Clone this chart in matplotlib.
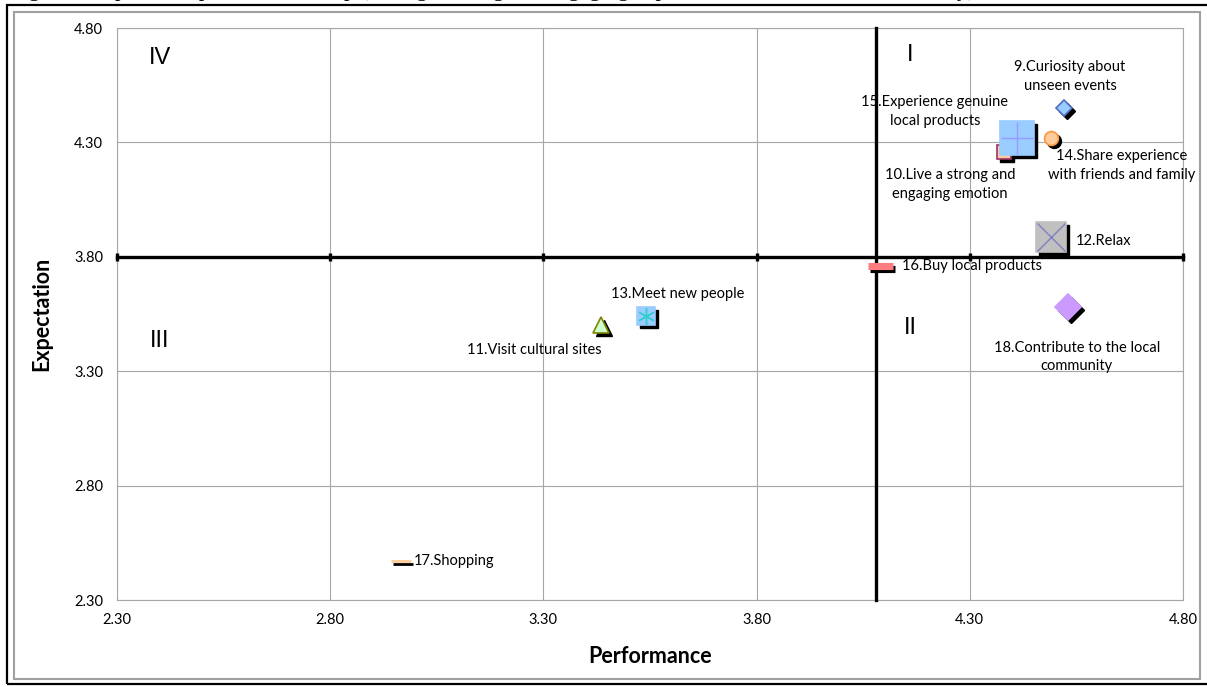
import matplotlib
matplotlib.use("Agg")
import matplotlib.pyplot as plt
import matplotlib.transforms as mtransforms
from matplotlib.patches import Rectangle

plt.rcParams['font.family'] = ['Lato', 'DejaVu Sans']

# ---- data: (performance, expectation) per item --------------------------------
items = ["9.Curiosity about\nunseen events",
         "10.Live a strong and\nengaging emotion",
         "11.Visit cultural sites",
         "12.Relax",
         "13.Meet new people",
         "14.Share experience\nwith friends and family",
         "15.Experience genuine\nlocal products",
         "16.Buy local products",
         "17.Shopping",
         "18.Contribute to the local\ncommunity"]
performance = [4.52, 4.38, 3.435, 4.49, 3.54, 4.49, 4.41, 4.09, 2.965, 4.53]
expectation = [4.45, 4.26, 3.50, 3.885, 3.54, 4.32, 4.32, 3.76, 2.47, 3.58]
perf_mean = 4.08
exp_mean = 3.80
ticks = [2.30, 2.80, 3.30, 3.80, 4.30, 4.80]
tick_labels = ["2.30", "2.80", "3.30", "3.80", "4.30", "4.80"]
quadrants = ["I", "II", "III", "IV"]

# marker style per item: marker, size(pt), face, edge, overlay marker, overlay colour
styles = [
    ('D', 8,  '#99CCFF', '#4F6FBF', None, None),
    ('s', 9.5, '#FFCC99', '#993366', None, None),
    ('^', 12, '#CCFFCC', '#808000', None, None),
    ('s', 22, '#C0C0C0', '#C0C0C0', 'x', '#8080C0'),
    ('s', 13.5, '#99CCFF', '#99CCFF', (6, 2, 0), '#33CCCC'),
    ('o', 10, '#FFCC99', '#F79646', None, None),
    ('s', 25, '#99CCFF', '#99CCFF', '+', '#9999FF'),
    ('_', 18, '#FF7C80', '#FF7C80', None, None),
    ('_', 14, '#FFCC99', '#FFCC99', None, None),
    ('D', 13, '#CC99FF', '#CC99FF', None, None),
]

# label anchor (x, y, ha)
label_pos = [(4.535, 4.59, 'center'), (4.253, 4.114, 'center'), (3.278, 3.393, 'center'),
             (4.549, 3.869, 'left'), (3.616, 3.637, 'center'), (4.657, 4.197, 'center'),
             (4.218, 4.433, 'center'), (4.141, 3.760, 'left'), (2.997, 2.470, 'left'),
             (4.551, 3.362, 'center')]
quad_pos = [(4.16, 4.68), (4.16, 3.49), (2.40, 3.43), (2.40, 4.67)]

fig = plt.figure(figsize=(12.07, 6.87), dpi=100)
ax = fig.add_axes([117/1207, 1-600/687, (1183-117)/1207, (600-28)/687])

# frames around the chart
fig.add_artist(Rectangle((7/1207, 1-684/687), 1.1, 679/687, transform=fig.transFigure,
                         fill=False, ec='black', lw=1.6))
fig.add_artist(Rectangle((14/1207, 1-679/687), 1186/1207, 667/687, transform=fig.transFigure,
                         fill=False, ec='#A0A0A0', lw=1.5))
fig.text(10/1207, 1+3.8/687, "Figure 3 Importance-performance map (Living a strong and engaging experience in the destination territory)",
         family='Liberation Serif', fontsize=16, va='baseline', ha='left')

ax.set_xlim(2.30, 4.80)
ax.set_ylim(2.30, 4.80)
ax.set_xticks(ticks)
ax.set_yticks(ticks)
ax.set_xticklabels(tick_labels, fontsize=10.5)
ax.set_yticklabels(tick_labels, fontsize=10.5)
ax.tick_params(axis='x', length=0, pad=9)
ax.tick_params(axis='y', length=0, pad=10)
ax.grid(True, color='#A6A6A6', lw=0.8)
for s in ax.spines.values():
    s.set_color('#A6A6A6')
    s.set_linewidth(0.8)
ax.set_axisbelow(True)

# quadrant split lines
ax.plot([2.30, 4.80], [exp_mean, exp_mean], color='black', lw=2.4, zorder=3, clip_on=False)
ax.plot(ticks, [exp_mean]*len(ticks), ls='none', marker='|', ms=6, mew=2.4,
        color='black', zorder=3, clip_on=False)
ax.plot([perf_mean, perf_mean], [2.30, 4.80], color='black', lw=2.4, zorder=3, clip_on=False)

shadow = mtransforms.offset_copy(ax.transData, fig, x=3, y=-3, units='dots')
for i in range(len(items)):
    mk, ms, fc, ec, ov, oc = styles[i]
    x, y = performance[i], expectation[i]
    if mk == '_':
        ax.plot(x, y, marker=mk, ms=ms, mew=ms/3.5 if ms > 15 else 2, color='black',
                transform=mtransforms.offset_copy(ax.transData, fig, x=2, y=-3, units='dots'),
                zorder=4)
        ax.plot(x, y, marker=mk, ms=ms, mew=ms/3.5 if ms > 15 else 2, color=fc, zorder=5)
    else:
        ax.plot(x, y, marker=mk, ms=ms, mfc='black', mec='black', mew=1,
                transform=shadow, zorder=4)
        ax.plot(x, y, marker=mk, ms=ms, mfc=fc, mec=ec, mew=1.2, zorder=5)
    if ov is not None:
        ax.plot(x, y, marker=ov, ms=ms*0.9, mec=oc, mew=1, ls='none', zorder=6)
    lx, ly, ha = label_pos[i]
    ax.text(lx, ly, items[i], fontsize=10.5, ha=ha, va='center', multialignment='center',
            linespacing=1.45, zorder=7)

for q, (qx, qy) in zip(quadrants, quad_pos):
    ax.text(qx, qy, q, fontsize=17, family='Liberation Sans', ha='center', va='center')

ax.set_xlabel("Performance", fontsize=15.5, fontweight='bold', labelpad=14)
ax.set_ylabel("Expectation", fontsize=15.5, fontweight='bold', labelpad=16)

fig.savefig("out.png", dpi=100)
